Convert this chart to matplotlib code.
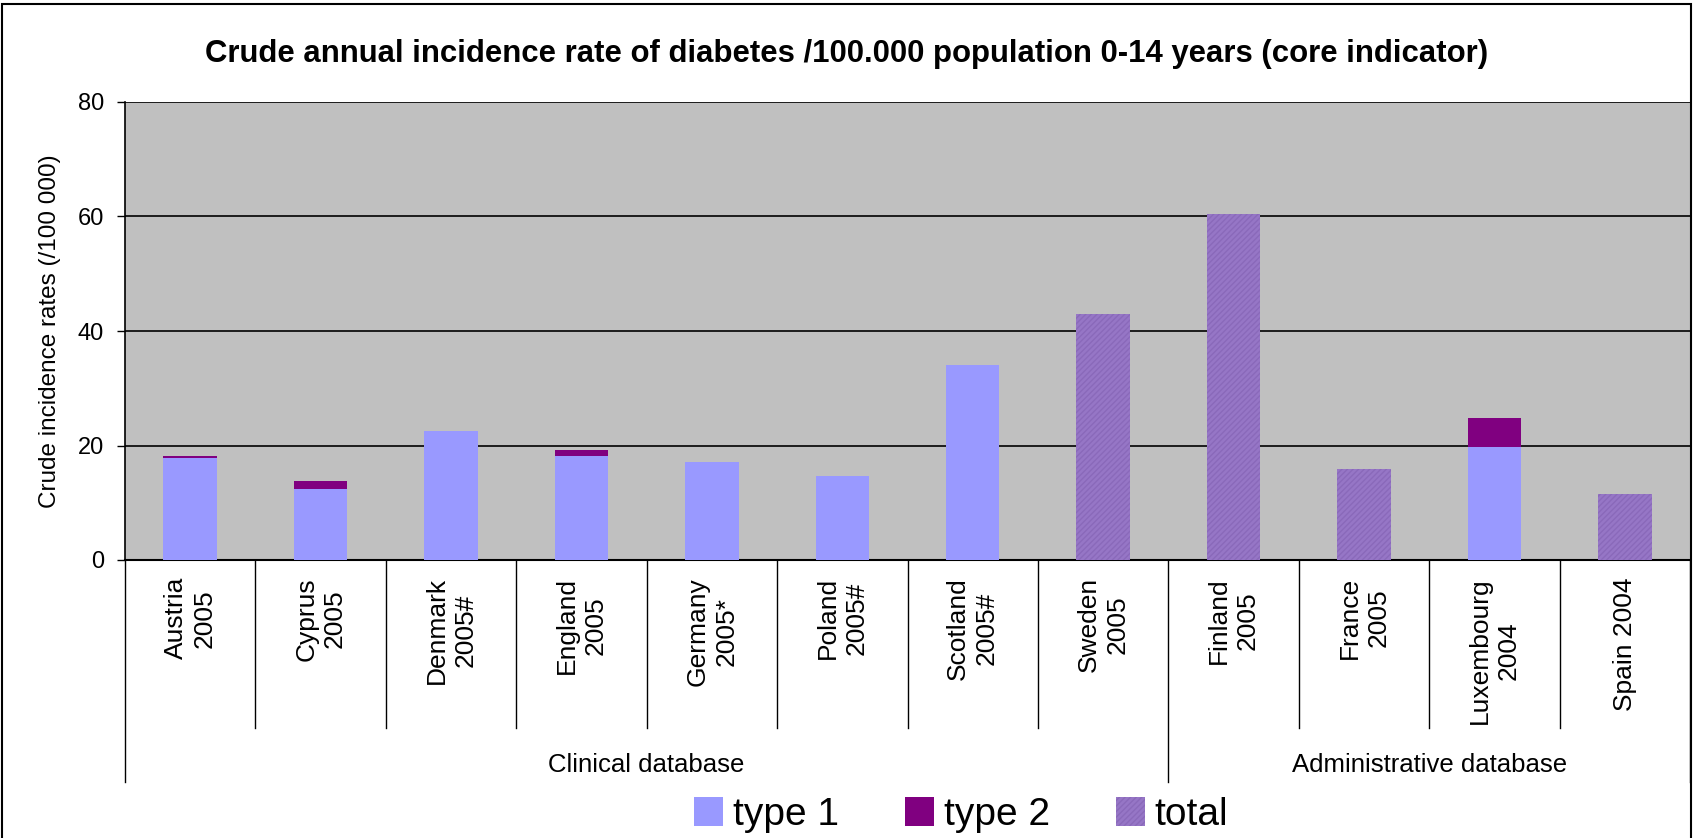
import numpy as np
import matplotlib
matplotlib.use("Agg")
import matplotlib.pyplot as plt
from matplotlib import transforms
from matplotlib.patches import Rectangle

plt.rcParams['font.family'] = ['Liberation Sans', 'DejaVu Sans']
plt.rcParams['hatch.linewidth'] = 1.0

categories = ["Austria\n2005", "Cyprus\n2005", "Denmark\n2005#", "England\n2005",
              "Germany\n2005*", "Poland\n2005#", "Scotland\n2005#", "Sweden\n2005",
              "Finland\n2005", "France\n2005", "Luxembourg\n2004", "Spain 2004"]
type1 = [17.9, 12.4, 22.5, 18.2, 17.1, 14.6, 34.1, 0, 0, 0, 19.8, 0]
type2 = [0.3, 1.4, 0, 1.0, 0, 0, 0, 0, 0, 0, 5.0, 0]
total = [0, 0, 0, 0, 0, 0, 0, 42.9, 60.4, 15.9, 0, 11.5]
groups = ["Clinical database", "Administrative database"]
group_sizes = [8, 4]
yticks = [0, 20, 40, 60, 80]

W, H = 1694, 838
fig = plt.figure(figsize=(W / 100, H / 100), dpi=100)
ax = fig.add_axes([125 / W, 1 - 560 / H, 1565 / W, 458 / H])
ax.set_facecolor('#C0C0C0')

x = np.arange(len(categories))
t1 = np.array(type1)
t2 = np.array(type2)
bw = 0.41
b1 = ax.bar(x, t1, bw, color='#9999FF', label='type 1', zorder=3)
b2 = ax.bar(x, t2, bw, bottom=t1, color='#800080', label='type 2', zorder=3)
b3 = ax.bar(x, total, bw, bottom=t1 + t2, facecolor='#9676C6', edgecolor='#8A69BA',
            linewidth=0, hatch='//////', label='total', zorder=3)

ax.set_xlim(-0.5, len(categories) - 0.5)
ax.set_ylim(0, 80)
ax.set_yticks(yticks)
ax.yaxis.grid(True, color='black', linewidth=1.2, zorder=1)
ax.tick_params(axis='y', labelsize=17, length=6, width=1, pad=9)
ax.set_xticks([])
for s in ['top', 'right']:
    ax.spines[s].set_visible(False)
ax.spines['left'].set_linewidth(1.2)
ax.spines['bottom'].set_linewidth(1.5)
ax.set_ylabel("Crude incidence rates (/100 000)", fontsize=17.5, labelpad=12)

# category labels and separators below the axis
tr = transforms.blended_transform_factory(ax.transData, fig.transFigure)
for i, c in enumerate(categories):
    ax.text(i, 1 - 577 / H, c, transform=tr, rotation=90, ha='center', va='top',
            multialignment='center', fontsize=19, linespacing=1.25)
bounds = np.cumsum([0] + group_sizes) - 0.5
for k in range(len(categories) + 1):
    xb = k - 0.5
    ybot = 782 if xb in bounds else 728
    ax.plot([xb, xb], [1 - 560 / H, 1 - ybot / H], transform=tr, color='black',
            linewidth=1, clip_on=False)
for g, a, b in zip(groups, bounds[:-1], bounds[1:]):
    ax.text((a + b) / 2, 1 - 765 / H, g, transform=tr, ha='center', va='center',
            fontsize=18.5)

fig.text(0.5, 1 - 54 / H,
         "Crude annual incidence rate of diabetes /100.000 population 0-14 years (core indicator)",
         ha='center', va='center', fontsize=22.4, fontweight='bold')

fig.legend(handles=[b1, b2, b3], loc='center', bbox_to_anchor=(961 / W, 1 - 815 / H),
           ncol=3, frameon=False, fontsize=28, handlelength=0.75, handleheight=0.75,
           handletextpad=0.25, columnspacing=1.7)

fig.patches.append(Rectangle((2 / W, -0.05), 1689 / W, 1.05 - 4 / H, transform=fig.transFigure,
                             fill=False, edgecolor='black', linewidth=1.5))

fig.savefig("out.png", dpi=100)
